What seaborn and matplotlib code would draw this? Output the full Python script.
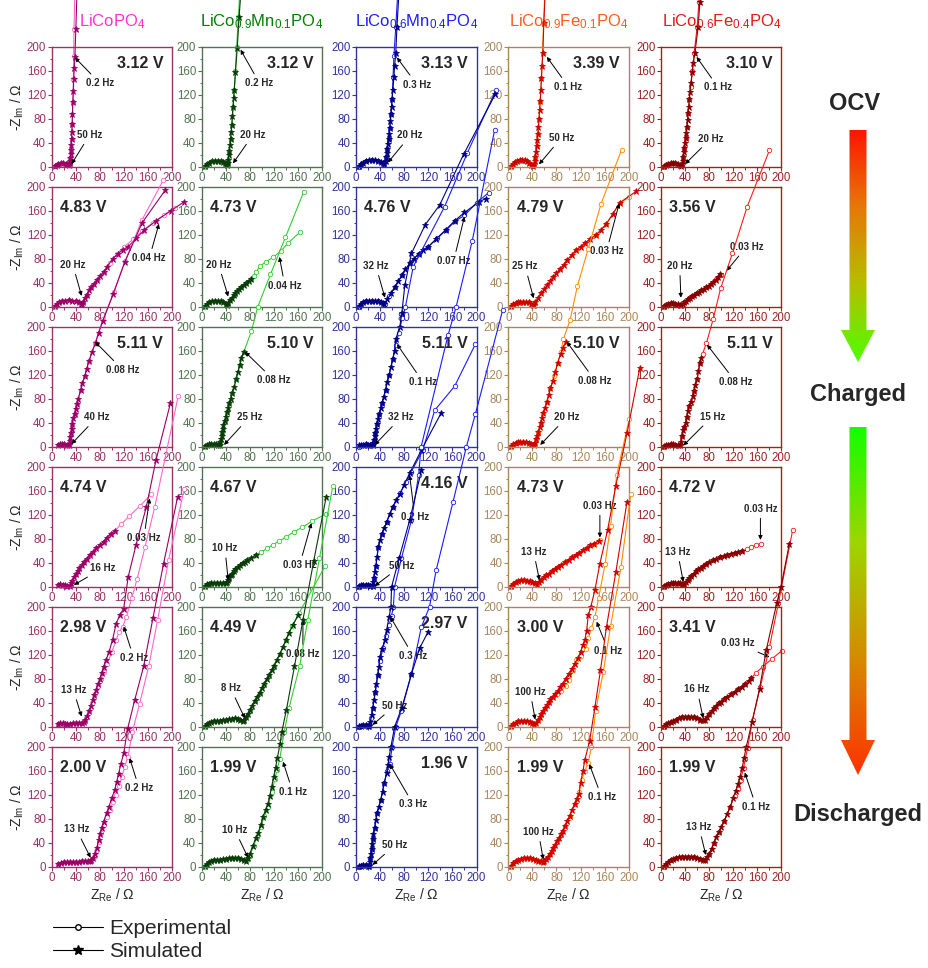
import numpy as np
import matplotlib
matplotlib.use("Agg")
import matplotlib.pyplot as plt
import seaborn as sns
from matplotlib.lines import Line2D
from matplotlib.patches import Polygon
from matplotlib.colors import LinearSegmentedColormap
from matplotlib.ticker import MultipleLocator

sns.set_style("ticks")
plt.rcParams['font.family'] = ['Liberation Sans', 'DejaVu Sans']
plt.rcParams['mathtext.fontset'] = 'custom'
plt.rcParams['mathtext.rm'] = 'Liberation Sans'
plt.rcParams['mathtext.it'] = 'Liberation Sans:italic'
plt.rcParams['mathtext.bf'] = 'Liberation Sans:bold'

# ---- Nyquist data (Z_Re, -Z_Im) in Ohm ----
# LiCoPO4
lcp_312_sim = [(5,1),(8,3),(11,5),(15,6),(19,6),(23,5),(26,4),(29,3),(30,6),(30.5,10),(31,15),(31.5,21),(32,28),(32.5,36),(33,46),(33.5,58),(34,72),(34.5,88),(35,107),(36,126),(36.5,146),(37.5,165),(38.5,182),(40,229),(42,290)]
lcp_312_exp = [(5,1),(8,3),(11,5),(15,6),(19,6),(23,5),(26,4),(29,3),(30,6),(31,15),(32,28),(33,46),(34,72),(35,107),(36,146),(36.5,185),(37,229),(38.5,290)]
lcp_483_sim = [(5,1),(8,4),(12,7),(17,9),(22,10),(28,11),(34,10),(40,9),(45,7),(48,5),(50,5),(52,8),(55,14),(58,20),(62,27),(66,33),(70,38),(75,44),(80,51),(86,58),(92,66),(101,80),(110,88),(118,95),(127,100),(140,114),(154,128),(173,143),(198,160),(220,175)]
lcp_483_exp = [(5,0),(10,5),(17,9),(28,11),(40,9),(48,5),(52,8),(58,20),(66,33),(75,44),(86,58),(97,73),(108,88),(120,100),(135,112),(150,126),(168,140),(186,153),(204,165)]
lcp_511_sim = [(10,3),(13,4),(17,4),(21,4),(25,3),(28,2),(29,5),(30,10),(31,16),(32,22),(33,30),(34,38),(36,47),(38,55),(40,63),(42,71),(44,80),(48,94),(51,106),(55,118),(58,130),(62,143),(67,158),(72.7,173),(78,190),(85,210),(102,254),(121,307),(150,373),(188,427)]
lcp_511_exp = [(10,3),(15,4),(20,4),(25,3),(28,2),(30,10),(32,22),(34,38),(38,55),(42,71),(48,94),(55,118),(62,143),(72,173),(85,212),(103,258),(122,310),(150,378),(185,444)]
lcp_474_sim = [(10,3),(14,4),(18,3),(22,3),(26,2),(30,2),(32,6),(34,10),(37,16),(40,21),(43,26),(46,31),(50,37),(54,42),(58,47),(63,53),(68,58),(74,64),(80,70),(86,75),(91,82),(98,88),(104.6,93)]
lcp_474_exp = [(10,3),(18,3),(26,2),(30,2),(34,10),(40,21),(46,31),(54,42),(63,53),(74,64),(86,75),(98,88),(104.6,93),(115.7,104.5),(129,118),(147,135),(165,154)]
lcp_298_sim = [(10,5),(14,6),(18,6),(22,5),(26,5),(30,5),(35,6),(40,6),(45,7),(50,7),(53,8),(56,12),(59,18),(62,26),(65,35),(68,44),(71,53),(74,62),(77,71),(80,80),(83,90),(86,100),(90,111),(95,124),(101,145),(107,172),(113,186),(119.5,197),(127,250),(140,303),(157,366),(173,444),(197,539)]
lcp_298_exp = [(10,5),(20,6),(30,5),(40,6),(50,7),(53,8),(57,14),(62,26),(67,40),(72,55),(77,68),(82,80),(87,92),(92,105),(100,125),(107,145),(112,158),(118,167),(124,183),(133,215),(142,247),(155,300),(171,366),(210,551)]
lcp_200_sim = [(10,5),(15,7),(20,8),(25,8),(30,8),(35,8),(40,8),(45,8),(50,9),(55,9),(60,9),(63,10),(66,11),(69,15),(72,22),(75,32),(78,45),(80,55),(83,65),(86,75),(91,89),(95,100),(100,115),(104.6,128),(108,142),(111,155),(115,172),(119.5,189),(126,230),(137.7,277.5),(152.6,334),(168,414),(185.6,505),(209,616)]
lcp_200_exp = [(10,5),(20,8),(30,8),(40,8),(50,9),(60,9),(65,10),(70,16),(74,27),(78,42),(82,56),(87,70),(92,83),(97,95),(102,108),(107,120),(112,135),(116.7,150),(121,167),(126.6,183),(134,225),(146,272),(161,334),(176,412),(194,511),(220,630)]

# LiCo0.9Mn0.1PO4
mn1_312_sim = [(5,1),(8,4),(12,7),(17,9),(22,10),(27,10),(32,10),(36,8),(39,6),(41,4),(42,3),(43,6),(44,12),(45,19),(46,27),(47,36),(48,46),(49,58),(50,70),(51,84),(52,100),(53,114),(54,127),(56,158),(59,198),(62,249),(65,290)]
mn1_312_exp = [(5,0),(8,4),(12,7),(17,9),(22,10),(27,10),(32,10),(36,8),(40,5),(42,3),(44,12),(46,27),(48,46),(50,70),(52,100),(54,127),(56,160),(58,200),(61,250),(63,290)]
mn1_473_sim = [(5,1),(8,4),(12,7),(17,9),(22,10),(27,10),(32,9),(36,8),(40,5),(42,3),(44,6),(47,11),(50,15),(53,19),(56,23),(59,26),(62,29),(66,32),(70,36),(74,39),(78,43),(82,46)]
mn1_473_exp = [(5,0),(12,7),(22,10),(32,9),(40,5),(42,3),(47,11),(53,19),(59,26),(66,32),(74,39),(82,46),(86,51),(90,57),(96,67),(107,75),(118,82),(132,93),(143,106),(163,124)]
mn1_510_sim = [(5,1),(8,3),(12,4),(16,5),(20,4),(24,4),(27,3),(30,3),(31,7),(32,12),(33,18),(34,24),(35,30),(36,36),(38,42),(40,50),(42,57),(44,64),(46,72),(48,80),(51,90),(54,100),(57,112),(60,124),(63,136),(66,148),(70,158)]
mn1_510_exp = [(5,0),(10,3),(16,5),(22,4),(28,3),(31,7),(34,24),(38,42),(42,57),(46,72),(51,90),(57,112),(63,136),(70,158),(82.6,193),(93,233),(114,287),(139,349),(169,424)]
mn1_467_sim = [(5,2),(8,4),(12,5),(16,6),(20,6),(25,6),(30,6),(35,6),(40,6),(42,8),(44,11),(46,15),(48,19),(50,22),(53,26),(56,30),(60,33),(64,37),(68,40),(72,42),(76,44),(82,48),(90,53)]
mn1_467_exp = [(5,0),(10,4),(16,6),(25,6),(35,6),(40,6),(44,11),(48,19),(53,26),(60,33),(68,40),(76,44),(90,53),(99,58),(109,64),(118,70),(129,76),(140,83),(152.6,91),(167,99),(183.5,109.5),(205.5,121)]
mn1_449_sim = [(5,2),(8,4),(12,6),(16,8),(20,9),(25,10),(30,10),(35,11),(40,12),(45,13),(50,13),(55,14),(60,13),(64,12),(68,10),(71,12),(74,17),(77,22),(80,28),(84,35),(88,43),(92,50),(96,57),(100,65),(104,72),(108,80),(112,87),(116,94),(120,102),(125,112),(130,122),(135,133),(140,145),(145,157),(152,170),(160,186)]
mn1_449_exp = [(5,0),(10,5),(20,9),(30,10),(40,12),(50,13),(60,13),(68,10),(74,17),(80,28),(88,43),(96,57),(104,72),(112,87),(120,102),(130,122),(140,145),(150,168),(162,190),(205,268)]
mn1_199_sim = [(5,2),(8,5),(12,8),(16,10),(20,11),(25,12),(30,12),(35,13),(40,13),(45,14),(50,14),(55,14),(60,14),(65,13),(70,12),(74,10),(77,14),(80,22),(85,35),(90,48),(93.6,55.5),(98,70),(101.8,83),(106,95),(110,105),(113,118),(116,133),(119.5,150),(122.5,165),(125.6,181),(130,205),(133,225),(140.5,261),(154,334),(168,411),(186,510),(206.6,616)]
mn1_199_exp = [(5,0),(10,6),(20,11),(30,12),(40,13),(50,14),(60,14),(70,12),(75,11),(80,18),(86,35),(92,50),(98,66),(104,84),(110,100),(116,125),(121.6,146),(125,162),(129.4,179),(137,225),(145,265),(162.5,334),(176,411),(195.5,514),(217.5,634)]

# LiCo0.6Mn0.4PO4
mn4_313_sim = [(5,1),(8,4),(12,7),(17,10),(22,11),(27,12),(32,11),(37,10),(41,8),(44,6),(47,5),(49,10),(50,16),(51,23),(52,30),(53,38),(54,46),(55,55),(56,65),(57,76),(58,88),(59,100),(60,113),(61,127),(63,150),(64,168),(66,190),(68,233),(71,285)]
mn4_313_exp = [(5,0),(10,6),(17,10),(27,12),(37,10),(44,6),(47,5),(50,16),(52,30),(54,46),(56,65),(58,88),(60,113),(61.5,150),(63,185),(66,233),(69,285)]
mn4_476_sim = [(5,1),(8,4),(12,7),(17,9),(22,10),(27,10),(32,10),(37,9),(41,8),(45,6),(47,5),(52,12),(58,22),(64,32),(70,42),(76,52),(82,62),(89,72),(96,80),(104,88),(112,95),(120,100),(132,112),(148.8,128),(163.6,143),(180,157),(204.6,175),(215,180)]
mn4_476_exp = [(5,0),(10,6),(17,9),(27,10),(37,9),(45,6),(48,5),(55,17),(64,32),(76,52),(89,72),(104,88),(120,100),(135,114),(150,128),(165,143),(180,152),(200,173),(220,190)]
mn4_511_sim = [(5,2),(8,3),(12,3),(16,4),(20,3),(24,3),(28,2),(29,6),(30,11),(31,17),(32,23),(33,30),(35,38),(37,46),(39,55),(41,64),(43,72),(46,82),(49,95),(52,108),(55,120),(58,132),(61,146),(64,160),(66,179),(72.7,200),(76,222),(81,269),(92,322),(115,370),(139,403),(178.5,487),(231,587)]
mn4_511_exp = [(5,0),(10,3),(16,4),(22,3),(28,2),(30,11),(32,23),(35,38),(39,55),(43,72),(49,95),(55,120),(61,146),(66,170),(71,190),(77,215),(82,233),(95,300),(147,400),(185,490),(232,594)]
mn4_416_sim = [(5,2),(8,3),(12,3),(16,3),(20,3),(24,2),(28,2),(29,8),(30,15),(31,24),(33,35),(35,50),(37,66),(40,78),(43,88),(47,98),(51,108),(56,122),(61,133),(67,144),(73,154),(80,170),(89,189),(108.6,228),(141.6,290)]
mn4_416_exp = [(5,0),(10,3),(16,3),(22,3),(28,2),(30,15),(33,35),(37,66),(43,88),(51,108),(61,133),(73,156),(83,175),(92,192),(111,228),(130.6,294),(163.6,334),(198,404)]
mn4_297_sim = [(5,1),(8,2),(12,3),(16,3),(20,2),(22,2),(24,8),(26,20),(28,32),(30,45),(32,58),(34,72),(36,86),(38,100),(39.7,117),(43,130),(48,144),(51,162),(55,183),(58,200),(59,233),(71.6,281),(89,344),(108.6,427)]
mn4_297_exp = [(5,0),(10,3),(16,3),(22,2),(25,14),(28,32),(32,58),(36,86),(40,110),(45,132),(50,152),(55,170),(59,185),(62,200),(64,233),(75.5,281),(92,344),(104,420),(108,466),(152.6,652),(166,699),(193,810),(230,994)]
mn4_196_sim = [(5,1),(8,2),(12,3),(16,3),(20,2),(22,2),(23,8),(24,15),(25,22),(26,30),(27,38),(28,46),(29,55),(31,65),(33,78),(35,90),(38,100),(41,111),(44,125),(47,140),(50.7,156),(53,170),(55,183),(58,200),(64,233),(76,265),(92,321),(106,365),(119.5,391)]
mn4_196_exp = [(5,0),(10,3),(16,3),(22,2),(24,15),(26,30),(28,46),(31,65),(35,90),(41,111),(47,140),(52,160),(56,171),(60,200),(66,233),(75.5,260),(92,321),(108.6,400),(122,433),(133,494),(161,608),(183,699),(198.3,755),(243.5,928)]

# LiCo0.9Fe0.1PO4
fe1_339_sim = [(5,2),(8,5),(11,8),(15,10),(19,12),(23,12),(27,11),(31,9),(35,6),(38,3),(41,1),(43,4),(44,10),(45,17),(46,25),(47,34),(48,44),(49,55),(50,67),(51,80),(52,95),(53,110),(54,128),(55,148),(56,168),(57.3,190),(59,240),(61,285)]
fe1_339_exp = [(5,0),(10,7),(15,10),(20,12),(25,12),(30,9),(35,6),(40,2),(43,4),(45,17),(47,34),(49,55),(51,80),(53,110),(55,148),(57,190),(58.5,240),(60.5,285)]
fe1_479_sim = [(5,1),(8,4),(12,6),(16,8),(20,8),(25,8),(30,8),(34,7),(38,5),(41,3),(42,2),(45,8),(50,15),(55,22),(60,29),(65,36),(70,43),(75,49),(80,56),(86,63),(92,70),(98,78),(105,86),(112,94),(120,100),(127,106),(136,113),(146,120),(154,128),(162.6,138),(174,155),(184.6,173),(212,192)]
fe1_479_exp = [(5,0),(10,5),(16,8),(25,8),(34,7),(41,3),(45,8),(55,22),(65,36),(75,49),(86,63),(98,78),(112,94),(127,106),(146,120),(162.6,138),(184.6,172),(200,182)]
fe1_510_sim = [(5,1),(8,4),(12,6),(16,8),(20,8),(25,8),(30,8),(34,6),(38,4),(42,2),(44,6),(46,12),(48,18),(50,25),(52,32),(54,40),(56,48),(58,56),(61,65),(64,75),(67,86),(70,97),(74,110),(78,124),(82,140),(87,155),(91,165),(95.3,175)]
fe1_510_exp = [(5,0),(10,5),(16,8),(25,8),(34,6),(42,2),(46,12),(50,25),(54,40),(58,56),(64,75),(70,97),(76,118),(82,140),(87,157),(91.4,179),(102.5,211),(114.6,267.5),(132.7,330),(153.7,404),(188,495)]
fe1_473_sim = [(5,2),(8,5),(12,8),(16,10),(21,11),(26,11),(31,10),(36,9),(40,8),(44,6),(48,5),(51,8),(55,12),(59,16),(63,19),(67,22),(72,26),(77,30),(82,33),(88,37),(94,41),(100,45),(106,49),(112,53),(118,57),(124,61),(130,65),(136,69),(142,72),(150,76)]
fe1_473_exp = [(5,0),(10,6),(16,10),(26,11),(36,9),(44,6),(48,5),(55,12),(63,19),(72,26),(82,33),(94,41),(106,49),(118,57),(130,65),(142,72),(152,78)]
fe1_300_sim = [(5,2),(8,5),(12,7),(16,9),(21,10),(26,10),(31,9),(36,8),(40,6),(43,5),(46,7),(49,11),(52,16),(55,21),(58,26),(61,31),(64,36),(67,41),(70,46),(74,50),(78,55),(82,60),(86,66),(90,72),(95,80),(100,88),(105,96),(110,105),(115,114),(120,125),(124,137),(127,144.5),(130,160),(132.8,186),(137,200),(143.8,228),(152,272),(164.8,327.5),(178.5,402),(197,489),(218,597)]
fe1_300_exp = [(5,0),(10,6),(16,9),(26,10),(36,8),(43,5),(49,11),(55,21),(61,31),(67,41),(74,49),(81,54),(88,60),(95,68),(101,78),(108,94.5),(113,111),(120,118),(128.4,129),(133,148),(138,165),(143.8,183),(150,215),(160.8,272),(169.7,335),(180,420),(200.5,512)]
fe1_199_sim = [(5,2),(8,6),(12,9),(16,11),(21,13),(26,14),(31,14),(36,14),(41,13),(46,12),(50,10),(54,9),(57,8),(60,10),(63,13),(66,17),(69,22),(72,27),(75,32),(78,37),(81,43),(84,48),(87,54),(90,60),(94,68),(98,76),(102,85),(106,95),(110,105),(113.5,113),(117.4,121),(120,140),(124,160),(127,178),(135,210),(143.8,266),(153,327.5),(163,400),(178.5,491),(197,608)]
fe1_199_exp = [(5,0),(10,8),(16,11),(26,14),(36,14),(46,12),(54,9),(58,8),(63,13),(69,22),(75,32),(81,43),(87,54),(94,68),(102,85),(110,105),(117,125),(122,145),(127,160),(132.7,173),(138,200),(145,260),(157.7,325),(169.8,401),(187,499),(203.3,621.5)]

# LiCo0.6Fe0.4PO4
fe4_310_sim = [(5,1),(8,3),(12,5),(16,6),(20,6),(24,6),(28,5),(31,3),(34,2),(35,5),(36,10),(37,17),(38,24),(39,32),(40,40),(41,48),(42,57),(43,67),(44,78),(45,90),(46,100),(47,112),(48,124),(50,140),(52,158),(53.5,172),(56.2,189),(61.7,233),(64.5,275)]
fe4_310_exp = [(5,0),(10,4),(16,6),(24,6),(31,3),(35,5),(37,17),(39,32),(41,48),(43,67),(45,90),(47,112),(49,133),(52,160),(55,189),(60,233),(63,275)]
fe4_356_sim = [(5,1),(8,3),(12,5),(16,6),(20,6),(24,5),(28,4),(31,3),(34,2),(36,4),(39,7),(42,10),(45,13),(48,15),(51,18),(55,20),(59,23),(63,25),(67,28),(71,30),(75,32),(79,35),(83,38),(87,41),(91,45),(95,49),(98.6,54.5)]
fe4_356_exp = [(5,0),(10,4),(16,6),(24,5),(31,3),(35,3),(40,8),(46,14),(52,18),(60,23),(68,28),(76,33),(84,39),(92,46),(99,52)]
fe4_511_sim = [(5,1),(8,2),(12,3),(16,4),(20,4),(24,3),(28,3),(31,2),(33,8),(35,18),(37,27),(39,33),(41.3,39),(43,50),(45,60),(47,68),(50.6,75),(53,85),(55,93),(57,103),(60,113),(62,126),(64.5,139),(66,148)]
fe4_511_exp = [(5,0),(10,2),(16,4),(24,3),(31,2),(35,18),(39,33),(43,50),(47,68),(51,78),(55,93),(60,113),(64.5,139),(69,155),(75.5,173),(86.4,212),(99,264),(118.5,322),(143,400),(180,494)]
fe4_472_sim = [(5,2),(8,3),(12,5),(16,6),(20,6),(24,7),(28,6),(32,6),(35,5),(38,5),(41,8),(44,11),(47,14),(50,18),(54,22),(58,26),(62,29),(66,32),(70,35),(75,38),(80,41),(86,44),(92,47),(98,49),(104,51),(110,53),(116,55),(122,57),(128,58),(135,59)]
fe4_472_exp = [(5,0),(12,5),(20,6),(28,6),(35,5),(38,5),(44,11),(50,18),(58,26),(66,32),(75,38),(86,44),(98,49),(110,53),(122,57),(135,59),(143,63),(150,66),(157,69),(165.3,72)]
fe4_341_sim = [(5,2),(8,4),(12,6),(16,8),(20,10),(25,12),(30,14),(35,16),(40,17),(45,17),(50,17),(55,16),(60,14),(65,12),(70,11),(73,12),(76,16),(80,21),(84,26),(88,31),(92,35),(96,39),(100,42),(105,46),(110,50),(116,54),(122,58),(128,63),(134,67),(140,72),(146,77),(150,81)]
fe4_341_exp = [(5,0),(10,5),(16,8),(25,12),(35,16),(45,17),(55,16),(65,12),(72,11),(80,21),(88,31),(96,39),(105,46),(116,54),(128,63),(140,72),(150,81),(158,90),(169,100),(184,113),(201,127)]
fe4_199_sim = [(5,2),(8,5),(12,8),(16,11),(20,13),(25,15),(30,16),(35,17),(40,17),(45,17),(50,17),(55,16),(60,15),(65,13),(70,12),(73,12),(76,16),(80,22),(84,30),(88,40),(92,50),(96,58),(100,66),(105,76),(110,88),(115,100),(119.5,114),(124,126),(128,138),(131,150),(134.7,164),(138,182),(141.6,200),(151,241),(163.6,297),(174.7,361),(192.3,440),(199,466),(213,538)]
fe4_199_exp = [(5,0),(10,6),(16,11),(25,15),(35,17),(45,17),(55,16),(65,13),(73,12),(80,22),(88,40),(96,58),(105,76),(115,100),(122,118),(127,130),(132,145),(137,164),(140,180),(143.8,198),(152,245),(165,300),(180,366),(195,440),(218.7,562)]

titles = [r'LiCoPO$_4$', r'LiCo$_{0.9}$Mn$_{0.1}$PO$_4$', r'LiCo$_{0.6}$Mn$_{0.4}$PO$_4$',
          r'LiCo$_{0.9}$Fe$_{0.1}$PO$_4$', r'LiCo$_{0.6}$Fe$_{0.4}$PO$_4$']
voltages = [["3.12 V", "3.12 V", "3.13 V", "3.39 V", "3.10 V"],
            ["4.83 V", "4.73 V", "4.76 V", "4.79 V", "3.56 V"],
            ["5.11 V", "5.10 V", "5.11 V", "5.10 V", "5.11 V"],
            ["4.74 V", "4.67 V", "4.16 V", "4.73 V", "4.72 V"],
            ["2.98 V", "4.49 V", "2.97 V", "3.00 V", "3.41 V"],
            ["2.00 V", "1.99 V", "1.96 V", "1.99 V", "1.99 V"]]
freqs = [[("0.2 Hz", "50 Hz"), ("0.2 Hz", "20 Hz"), ("0.3 Hz", "20 Hz"), ("0.1 Hz", "50 Hz"), ("0.1 Hz", "20 Hz")],
         [("20 Hz", "0.04 Hz"), ("20 Hz", "0.04 Hz"), ("32 Hz", "0.07 Hz"), ("25 Hz", "0.03 Hz"), ("20 Hz", "0.03 Hz")],
         [("0.08 Hz", "40 Hz"), ("0.08 Hz", "25 Hz"), ("0.1 Hz", "32 Hz"), ("0.08 Hz", "20 Hz"), ("0.08 Hz", "15 Hz")],
         [("16 Hz", "0.03 Hz"), ("10 Hz", "0.03 Hz"), ("0.2 Hz", "50 Hz"), ("13 Hz", "0.03 Hz"), ("13 Hz", "0.03 Hz")],
         [("13 Hz", "0.2 Hz"), ("8 Hz", "0.08 Hz"), ("0.3 Hz", "50 Hz"), ("100 Hz", "0.1 Hz"), ("16 Hz", "0.03 Hz")],
         [("13 Hz", "0.2 Hz"), ("10 Hz", "0.1 Hz"), ("0.3 Hz", "50 Hz"), ("100 Hz", "0.1 Hz"), ("13 Hz", "0.1 Hz")]]

grid = [[(lcp_312_exp, lcp_312_sim), (mn1_312_exp, mn1_312_sim), (mn4_313_exp, mn4_313_sim), (fe1_339_exp, fe1_339_sim), (fe4_310_exp, fe4_310_sim)],
        [(lcp_483_exp, lcp_483_sim), (mn1_473_exp, mn1_473_sim), (mn4_476_exp, mn4_476_sim), (fe1_479_exp, fe1_479_sim), (fe4_356_exp, fe4_356_sim)],
        [(lcp_511_exp, lcp_511_sim), (mn1_510_exp, mn1_510_sim), (mn4_511_exp, mn4_511_sim), (fe1_510_exp, fe1_510_sim), (fe4_511_exp, fe4_511_sim)],
        [(lcp_474_exp, lcp_474_sim), (mn1_467_exp, mn1_467_sim), (mn4_416_exp, mn4_416_sim), (fe1_473_exp, fe1_473_sim), (fe4_472_exp, fe4_472_sim)],
        [(lcp_298_exp, lcp_298_sim), (mn1_449_exp, mn1_449_sim), (mn4_297_exp, mn4_297_sim), (fe1_300_exp, fe1_300_sim), (fe4_341_exp, fe4_341_sim)],
        [(lcp_200_exp, lcp_200_sim), (mn1_199_exp, mn1_199_sim), (mn4_196_exp, mn4_196_sim), (fe1_199_exp, fe1_199_sim), (fe4_199_exp, fe4_199_sim)]]

# ---- layout / style ----
W, H = 929, 968
col_left = [51.7, 201.7, 356, 508.3, 661]
row_top = [46.7, 186.7, 326.7, 466.7, 606.7, 746.7]
pw, ph = 120.5, 120
frame_c = ['#993366', '#527352', '#33339c', '#a8865e', '#9a2424']
title_c = ['#ff33cc', '#008000', '#1f1fff', '#ff5a1f', '#e01b1b']
sim_c = ['#990066', '#0b3a0b', '#000080', '#d10000', '#850000']
exp_c = ['#ff66cc', '#33cc33', '#1a1aff', '#ff8c00', '#ff1a1a']

# voltage label: side ('L' / 'R')
vside = [['R'] * 5, ['L'] * 5, ['R'] * 5,
         ['L', 'L', 'R', 'L', 'L'], ['L', 'L', 'R', 'L', 'L'], ['L', 'L', 'R', 'L', 'L']]
# arrow annotations: (tip, text position) in panel data coords, same order as freqs
ann_pos = [[[((38.5, 182), (80, 139)), ((33, 4.5), (63, 53))],
            [((64.5, 195), (96, 139)), ((52, 5.6), (85, 53))],
            [((68, 182), (101, 137)), ((53, 7), (90, 52))],
            [((64, 183), (100, 133)), ((51, 4), (88, 48))],
            [((59, 183), (95, 132)), ((40, 4.5), (83, 47))]],
           [[((49.6, 18), (35, 70)), ((178, 138), (162, 81))],
            [((44, 17), (28, 70)), ((129, 83), (138, 35))],
            [((48, 15), (33, 68)), ((180, 150), (162, 76))],
            [((42, 14), (28, 67)), ((184, 172), (163, 92))],
            [((33, 15), (31, 68)), ((109, 60), (142, 100))]],
           [[((72, 175), (118, 128)), ((33, 4.5), (75, 49))],
            [((72, 158), (120, 111)), ((37, 3), (79, 49))],
            [((68, 171), (111, 108)), ((31, 3), (75, 49))],
            [((97, 175), (144, 110)), ((53, 3), (97, 49))],
            [((76.5, 170), (124, 108)), ((37, 2), (85, 50))]],
           [[((37, 3), (85, 31)), ((162.5, 147), (153, 81))],
            [((44, 11), (38.5, 64)), ((182, 106), (162.5, 36))],
            [((89, 186), (97.5, 117)), ((31, 1), (75.5, 35))],
            [((51.7, 11), (42, 58)), ((152, 82), (152, 135))],
            [((37, 8), (27.5, 58)), ((165, 78), (165, 130))]],
           [[((49.6, 17), (36, 61)), ((119.5, 167), (136, 115))],
            [((71.6, 14), (48, 64)), ((168, 178), (168, 121))],
            [((57, 183), (95, 118)), ((27.5, 3), (64.5, 35))],
            [((44.6, 12), (36.4, 58)), ((146.6, 175), (166, 127))],
            [((70, 14), (60, 62)), ((180, 116), (127, 139))]],
           [[((64.5, 15), (41, 62)), ((129.4, 181), (145, 131))],
            [((77, 15), (55, 61)), ((135, 175), (151, 125))],
            [((56, 171), (95, 104)), ((27.5, 3), (64.5, 36))],
            [((58, 12), (50, 58)), ((134.4, 171), (155, 116))],
            [((74.4, 19.5), (63, 66)), ((139, 157), (158, 100))]]]

fig = plt.figure(figsize=(W / 100, H / 100), dpi=100)

# full-figure overlay (pixel coords) for the side arrows and texts
ov = fig.add_axes([0, 0, 1, 1])
ov.set_xlim(0, W)
ov.set_ylim(H, 0)
ov.axis('off')


def grad_arrow(ax, colors, y0, y1, y2):
    cmap = LinearSegmentedColormap.from_list('g', colors)
    img = cmap(np.linspace(0, 1, 256))[:, None, :]
    im = ax.imshow(img, extent=(838, 878, y2 + 2, y0 - 2), aspect='auto', origin='upper', zorder=1)
    shape = Polygon([(849.5, y0), (866.5, y0), (866.5, y1), (875, y1), (858, y2),
                     (841, y1), (849.5, y1)], closed=True, transform=ax.transData,
                    facecolor='none', edgecolor='none')
    ax.add_patch(shape)
    im.set_clip_path(shape)


grad_arrow(ov, ['#ff1200', '#e6780a', '#b4c000', '#4dff00'], 130, 330, 362)
grad_arrow(ov, ['#11ff00', '#9ed600', '#d68a00', '#ff3000'], 427, 740, 775)
ov.set_xlim(0, W)
ov.set_ylim(H, 0)
ov.text(855, 103, 'OCV', ha='center', va='center', fontsize=17, fontweight='bold')
ov.text(858, 395, 'Charged', ha='center', va='center', fontsize=17, fontweight='bold')
ov.text(858, 814, 'Discharged', ha='center', va='center', fontsize=17, fontweight='bold')


def draw(ax, pts, color, marker, ms, face):
    xs = [p[0] for p in pts]
    ys = [p[1] for p in pts]
    sns.lineplot(x=xs, y=ys, ax=ax, sort=False, estimator=None, color=color, lw=0.8,
                 marker=marker, markersize=ms, markerfacecolor=face,
                 markeredgecolor=color, markeredgewidth=0.6, clip_on=False)


for r in range(6):
    for c in range(5):
        ax = fig.add_axes([col_left[c] / W, 1 - (row_top[r] + ph) / H, pw / W, ph / H])
        ax.set_facecolor('none')
        exp, sim = grid[r][c]
        draw(ax, exp, exp_c[c], 'o', 3.2, 'white')
        draw(ax, sim, sim_c[c], '*', 4.8, sim_c[c])
        ax.set_xlim(0, 200)
        ax.set_ylim(0, 200)
        ax.xaxis.set_major_locator(MultipleLocator(40))
        ax.yaxis.set_major_locator(MultipleLocator(40))
        ax.xaxis.set_minor_locator(MultipleLocator(20))
        ax.yaxis.set_minor_locator(MultipleLocator(20))
        ax.tick_params(which='major', direction='out', length=3, width=0.8, labelsize=8.3,
                       colors=frame_c[c], pad=1)
        ax.tick_params(which='minor', direction='out', length=1.8, width=0.7, colors=frame_c[c])
        for s in ax.spines.values():
            s.set_color(frame_c[c])
            s.set_linewidth(1.0)
        ax.set_xlabel('')
        ax.set_ylabel('')
        if vside[r][c] == 'L':
            ax.text(14, 166, voltages[r][c], ha='left', va='center', fontsize=11.5, fontweight='bold')
        else:
            ax.text(185, 172, voltages[r][c], ha='right', va='center', fontsize=11.5, fontweight='bold')
        for lab, (tip, tpos) in zip(freqs[r][c], ann_pos[r][c]):
            ax.annotate(lab, xy=tip, xytext=tpos, ha='center', va='center', fontsize=7,
                        fontweight='bold', annotation_clip=False, zorder=6,
                        arrowprops=dict(arrowstyle='-|>', color='k', lw=0.7,
                                        mutation_scale=6, shrinkA=1, shrinkB=0))
        if c == 0:
            fig.text(17 / W, 1 - (row_top[r] + ph / 2) / H, r'-Z$_{\mathrm{Im}}$ / Ω',
                     rotation=90, ha='center', va='center', fontsize=10)

for c in range(5):
    xc = (col_left[c] + pw / 2) / W
    fig.text(xc, 1 - 22 / H, titles[c], ha='center', va='center', fontsize=12, color=title_c[c])
    fig.text(xc, 1 - 895 / H, r'Z$_{\mathrm{Re}}$ / Ω', ha='center', va='center', fontsize=10)

handles = [Line2D([], [], color='k', lw=0.8, marker='o', ms=4, mfc='white', mec='k'),
           Line2D([], [], color='k', lw=0.8, marker='*', ms=7)]
fig.legend(handles, ['Experimental', 'Simulated'], loc='upper left',
           bbox_to_anchor=(53 / W, 1 - 919 / H), frameon=False, fontsize=15,
           handlelength=2.4, handletextpad=0.3, labelspacing=0.2,
           borderpad=0, borderaxespad=0)

fig.savefig('out.png', dpi=100)
